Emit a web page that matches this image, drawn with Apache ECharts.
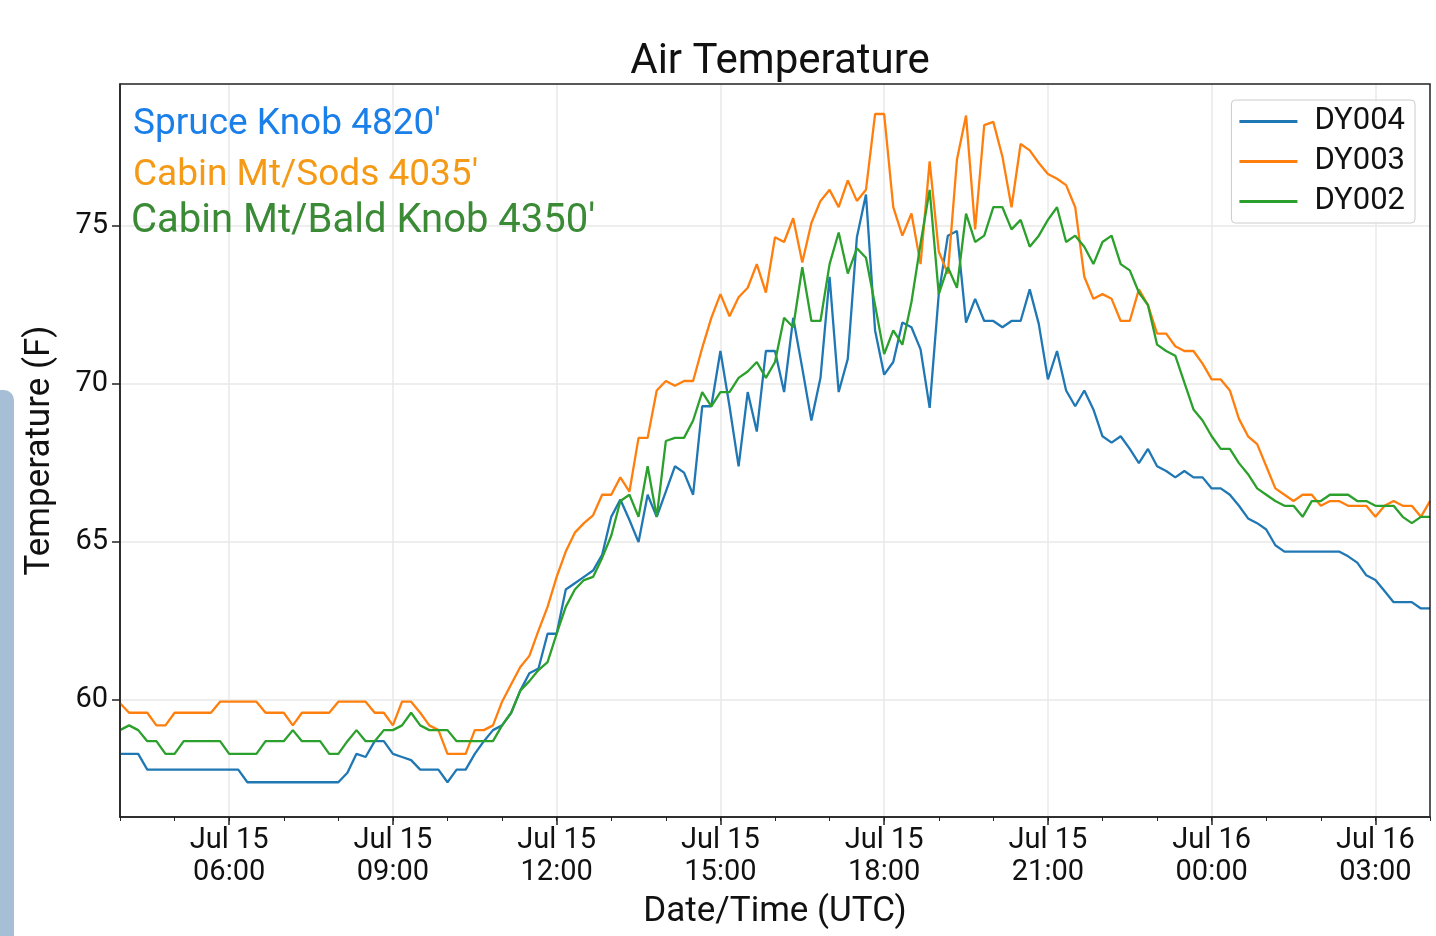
<!DOCTYPE html>
<html><head><meta charset="utf-8">
<script src="https://cdn.jsdelivr.net/npm/echarts@6/dist/echarts.min.js"></script>
<style>html,body{margin:0;padding:0;background:#fff}#c{width:1436px;height:936px}</style>
</head><body><div id="c"></div>
<script>
// hours since Jul 15 00:00 UTC, 10-minute steps from 04:00
const startHour = 4;
const stepHours = 1/6;
const xTickValues = [6, 9, 12, 15, 18, 21, 24, 27];
const xTickLabels = ['Jul 15\n06:00','Jul 15\n09:00','Jul 15\n12:00','Jul 15\n15:00','Jul 15\n18:00','Jul 15\n21:00','Jul 16\n00:00','Jul 16\n03:00'];
const yTickValues = [60, 65, 70, 75];
const seriesNames = ['DY004', 'DY003', 'DY002'];

const dy004 = [58.3,58.3,58.3,57.8,57.8,57.8,57.8,57.8,57.8,57.8,57.8,57.8,57.8,57.8,57.4,57.4,57.4,57.4,57.4,57.4,57.4,57.4,57.4,57.4,57.4,
57.7,58.3,58.2,58.7,58.7,58.3,58.2,58.1,57.8,57.8,57.8,57.4,57.8,57.8,58.3,58.7,59.05,59.2,59.6,60.3,60.85,61.0,62.1,62.1,63.5,63.7,63.9,64.1,
64.6,65.8,66.35,65.7,65.0,66.5,65.8,66.6,67.4,67.2,66.5,69.3,69.3,71.05,69.3,67.4,69.75,68.5,71.05,71.05,69.75,72.1,70.5,68.85,70.2,73.4,69.75,
70.8,74.65,76.0,71.7,70.3,70.7,71.95,71.8,71.1,69.25,72.85,74.7,74.85,71.95,72.7,72.0,72.0,71.8,72.0,72.0,73.0,71.9,70.15,71.05,69.8,69.3,69.8,
69.2,68.35,68.15,68.35,67.95,67.5,67.95,67.4,67.25,67.05,67.25,67.05,67.05,66.7,66.7,66.5,66.15,65.75,65.6,65.4,64.9,64.7,64.7,64.7,64.7,64.7,
64.7,64.7,64.55,64.35,63.95,63.8,63.45,63.1,63.1,63.1,62.9,62.9];

const dy003 = [59.9,59.6,59.6,59.6,59.2,59.2,59.6,59.6,59.6,59.6,59.6,59.95,59.95,59.95,59.95,59.95,59.6,59.6,59.6,59.2,59.6,59.6,59.6,59.6,
59.95,59.95,59.95,59.95,59.6,59.6,59.2,59.95,59.95,59.6,59.2,59.05,58.3,58.3,58.3,59.05,59.05,59.2,59.95,60.5,61.05,61.4,62.2,62.95,63.9,64.7,
65.3,65.6,65.85,66.5,66.5,67.05,66.6,68.3,68.3,69.8,70.1,69.95,70.1,70.1,71.15,72.1,72.85,72.15,72.75,73.05,73.8,72.9,74.65,74.5,75.25,73.85,
75.1,75.8,76.15,75.6,76.45,75.8,76.15,78.55,78.55,75.6,74.7,75.4,73.8,77.05,74.2,73.5,77.1,78.5,74.9,78.2,78.3,77.2,75.6,77.6,77.4,77.0,76.65,
76.5,76.3,75.6,73.4,72.7,72.85,72.7,72.0,72.0,73.0,72.5,71.6,71.6,71.2,71.05,71.05,70.65,70.15,70.15,69.8,68.9,68.35,68.1,67.4,66.7,66.5,66.3,
66.5,66.5,66.15,66.3,66.3,66.15,66.15,66.15,65.8,66.15,66.3,66.15,66.15,65.8,66.3];

const dy002 = [59.05,59.2,59.05,58.7,58.7,58.3,58.3,58.7,58.7,58.7,58.7,58.7,58.3,58.3,58.3,58.3,58.7,58.7,58.7,59.05,58.7,58.7,58.7,58.3,58.3,
58.7,59.05,58.7,58.7,59.05,59.05,59.2,59.6,59.2,59.05,59.05,59.05,58.7,58.7,58.7,58.7,58.7,59.2,59.6,60.3,60.6,60.95,61.2,62.1,62.95,63.5,63.8,
63.9,64.5,65.2,66.3,66.5,65.8,67.4,65.8,68.2,68.3,68.3,68.85,69.75,69.3,69.75,69.75,70.2,70.4,70.7,70.2,70.7,72.1,71.8,73.7,72.0,72.0,73.8,74.8,
73.5,74.3,74.0,72.5,70.95,71.7,71.25,72.6,74.45,76.15,72.85,73.7,73.05,75.4,74.5,74.7,75.6,75.6,74.9,75.2,74.35,74.7,75.2,75.6,74.5,74.7,74.35,
73.8,74.5,74.7,73.8,73.6,72.9,72.5,71.25,71.05,70.9,70.05,69.2,68.85,68.35,67.95,67.95,67.5,67.15,66.7,66.5,66.3,66.15,66.15,65.8,66.3,66.3,
66.5,66.5,66.5,66.3,66.3,66.15,66.15,66.15,65.8,65.6,65.8,65.8];

const colors = ['#1f77b4', '#ff7f0e', '#2ca02c'];
const toPairs = arr => arr.map((v, i) => [startHour + i * stepHours, v]);

const chart = echarts.init(document.getElementById('c'));
const font = 'Roboto, "Noto Sans", sans-serif';
chart.setOption({
  animation: false,
  backgroundColor: '#fff',
  title: { text: 'Air Temperature', left: 775, top: 36, textAlign: 'center',
    textStyle: { fontFamily: font, fontSize: 42, fontWeight: 'normal', color: '#111' } },
  grid: { left: 120, right: 6, top: 84, bottom: 119 },
  legend: {
    right: 21, top: 100, orient: 'vertical', itemWidth: 58, itemHeight: 3, itemGap: 9, padding: [6, 10, 6, 8],
    borderColor: '#ccc', borderWidth: 1, borderRadius: 4, backgroundColor: 'rgba(255,255,255,0.85)',
    icon: 'rect', textStyle: { fontFamily: font, fontSize: 31, color: '#111', padding: [0, 0, 0, 12] },
    data: seriesNames
  },
  xAxis: [{
    type: 'value', min: 4, max: 28, position: 'bottom',
    axisLine: { show: true, onZero: false, lineStyle: { color: '#222', width: 1.5 } },
    axisTick: { show: true, customValues: xTickValues, length: 8, lineStyle: { color: '#222', width: 1.5 } },
    axisLabel: { customValues: xTickValues, formatter: v => xTickLabels[xTickValues.indexOf(v)] || '',
      fontFamily: font, fontSize: 29, color: '#111', lineHeight: 32, margin: 8 },
    splitLine: { show: true, lineStyle: { color: '#e8e8e8', width: 1.5 } },
    name: 'Date/Time (UTC)', nameLocation: 'middle', nameGap: 78,
    nameTextStyle: { fontFamily: font, fontSize: 35, color: '#111' }
  }, {
    type: 'value', min: 4, max: 28, interval: 1, position: 'bottom',
    axisLine: { show: false }, axisTick: { show: true, length: 4, inside: false, lineStyle: { color: '#222' } },
    axisLabel: { show: false }, splitLine: { show: false }
  }],
  yAxis: {
    type: 'value', min: 56.3, max: 79.5,
    axisLine: { show: true, lineStyle: { color: '#222', width: 1.5 } },
    axisTick: { show: true, customValues: yTickValues, length: 8, lineStyle: { color: '#222', width: 1.5 } },
    axisLabel: { customValues: yTickValues, fontFamily: font, fontSize: 29, color: '#111', margin: 12 },
    splitLine: { show: true, lineStyle: { color: '#e8e8e8', width: 1.5 } },
    name: 'Temperature (F)', nameLocation: 'middle', nameGap: 62, nameRotate: 90,
    nameTextStyle: { fontFamily: font, fontSize: 35, color: '#111' }
  },
  graphic: [
    { type: 'rect', shape: { x: 120, y: 84, width: 1310, height: 733 }, style: { fill: 'none', stroke: '#222', lineWidth: 1.5 }, silent: true, z: 10 },
    { type: 'rect', shape: { x: -10, y: 390, width: 24, height: 560, r: 10 }, style: { fill: '#a7bfd6' } },
    { type: 'text', z: 100, left: 133, top: 106, style: { text: "Spruce Knob 4820'", fill: '#1a7fe8', font: '37px ' + font } },
    { type: 'text', z: 100, left: 133, top: 157, style: { text: "Cabin Mt/Sods 4035'", fill: '#f59a16', font: '37px ' + font } },
    { type: 'text', z: 100, left: 131, top: 202, style: { text: "Cabin Mt/Bald Knob 4350'", fill: '#3a8a36', font: '40px ' + font } }
  ],
  series: [dy004, dy003, dy002].map((arr, k) => ({
    name: seriesNames[k], type: 'line', data: toPairs(arr), showSymbol: false, symbol: 'none',
    lineStyle: { width: 2.3, color: colors[k] }, itemStyle: { color: colors[k] }, z: 3 + k
  }))
});
</script></body></html>
